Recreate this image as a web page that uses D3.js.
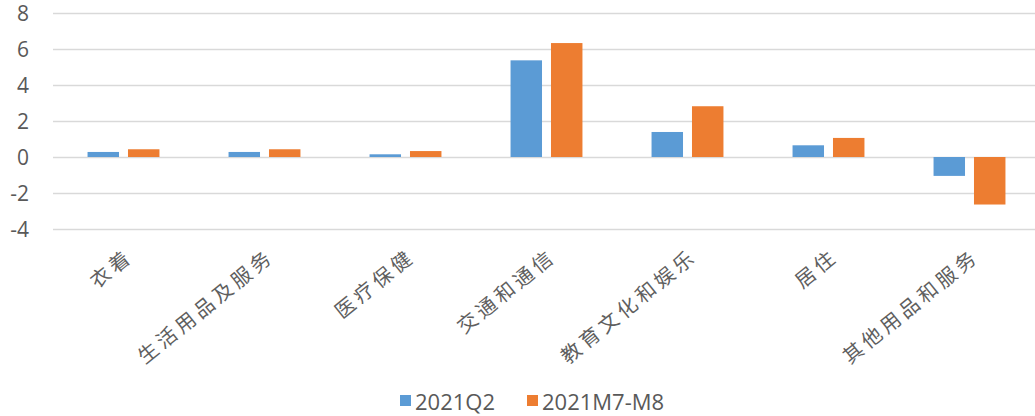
<!DOCTYPE html>
<html><head><meta charset="utf-8">
<script src="https://cdn.jsdelivr.net/npm/d3@7"></script>
<style>
html,body{margin:0;padding:0;background:#fff;}
svg{display:block;}
</style>
</head><body>
<svg id="c" width="1035" height="416"></svg>
<script>
const categories = ["衣着","生活用品及服务","医疗保健","交通和通信","教育文化和娱乐","居住","其他用品和服务"];
const seriesNames = ["2021Q2","2021M7-M8"];
const q2Values = [0.28, 0.28, 0.15, 5.37, 1.39, 0.65, -1.05];
const m7m8Values = [0.43, 0.43, 0.33, 6.33, 2.82, 1.06, -2.64];
const yTicks = [-4,-2,0,2,4,6,8];
const colors = ["#5b9bd5","#ed7d31"];

const svg = d3.select("#c");
const mLeft = 53, mRight = 1040, mTop = 13, mBottom = 229;

const x = d3.scaleBand().domain(categories).range([mLeft, mRight]).padding(0);
const bw = x.bandwidth();
const x1 = d3.scaleBand().domain(seriesNames).range([bw*0.245, bw*0.755]).paddingInner(0.222).paddingOuter(0);
const y = d3.scaleLinear().domain([-4, 8]).range([mBottom, mTop]);

// gridlines + tick labels
const yAxis = d3.axisLeft(y).tickValues(yTicks).tickSize(-(mRight-mLeft)).tickFormat(d => String(d)).tickPadding(24);
const gy = svg.append("g").attr("transform", `translate(${mLeft},0)`).call(yAxis);
gy.select(".domain").remove();
gy.selectAll(".tick line").attr("stroke","#d9d9d9").attr("stroke-width",1.5);
gy.selectAll(".tick text").attr("fill","#595959").style("font-family","'Open Sans', 'Liberation Sans', sans-serif").style("font-size","21px").attr("x",-24).attr("dy","0.36em");

const rows = categories.map((c,i)=>({cat:c, vals:[q2Values[i], m7m8Values[i]]}));
const g = svg.append("g");
rows.forEach(r=>{
  r.vals.forEach((v,j)=>{
    g.append("rect")
      .attr("x", x(r.cat) + x1(seriesNames[j]))
      .attr("width", x1.bandwidth())
      .attr("y", Math.min(y(v), y(0)))
      .attr("height", Math.abs(y(v)-y(0)))
      .attr("fill", colors[j]);
  });
});

// category labels
const xAxis = d3.axisBottom(x).tickSize(0).tickPadding(0);
const gx = svg.append("g").attr("transform", `translate(0,${mBottom})`).call(xAxis);
gx.select(".domain").remove();
gx.selectAll(".tick text")
  .attr("fill","#5f5f5f")
  .style("font-family","'Noto Sans CJK SC', sans-serif")
  .style("font-size","20px")
  .style("letter-spacing","4px")
  .attr("text-anchor","end")
  .attr("dy",0)
  .attr("y",0)
  .attr("transform","translate(11,30) rotate(-39)");

// legend
const legend = svg.append("g");
const legX = [400, 527];
seriesNames.forEach((s,j)=>{
  legend.append("rect").attr("x",legX[j]).attr("y",395).attr("width",11).attr("height",11).attr("fill",colors[j]);
  legend.append("text").attr("x",legX[j]+15).attr("y",410).text(s)
    .attr("fill","#595959").style("font-family","'Open Sans', sans-serif").style("font-size","22px");
});
</script>
</body></html>
